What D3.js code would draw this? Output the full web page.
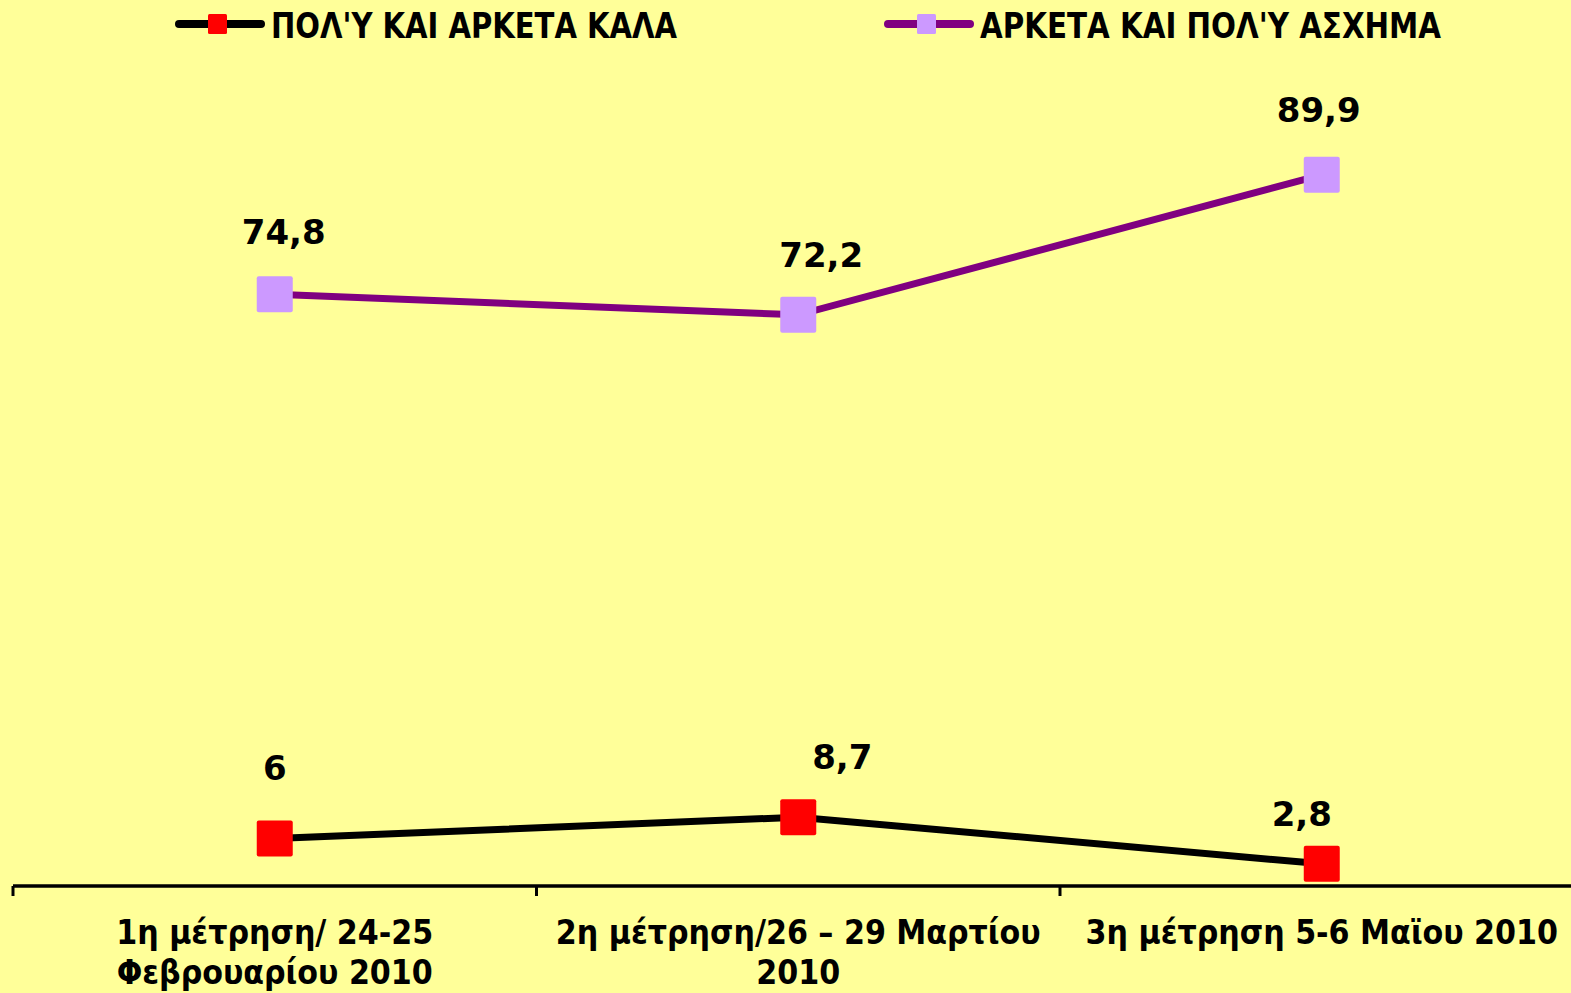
<!DOCTYPE html>
<html>
<head>
<meta charset="utf-8">
<script src="https://cdn.jsdelivr.net/npm/d3@7"></script>
<style>
  body { margin: 0; background: #FFFF99; }
  svg { display: block; }
  text { font-family: "DejaVu Sans", Verdana, sans-serif; font-weight: bold; fill: #000; }
</style>
</head>
<body>
<svg width="1571" height="993"></svg>
<script>
// data
var categories = [
  ["1η μέτρηση/ 24-25", "Φεβρουαρίου 2010"],
  ["2η μέτρηση/26 – 29 Μαρτίου", "2010"],
  ["3η μέτρηση 5-6 Μαϊου 2010"]
];
var seriesNames = ["ΠΟΛ'Υ ΚΑΙ ΑΡΚΕΤΑ ΚΑΛΑ", "ΑΡΚΕΤΑ ΚΑΙ ΠΟΛ'Υ ΑΣΧΗΜΑ"];
var goodValues = [6, 8.7, 2.8];
var badValues = [74.8, 72.2, 89.9];
var yDomain = [0, 112];

// label nudges (dx, dy from marker), excel had them placed by hand
var goodNudge = [[0, -59], [44, -48], [-20, -38]];
var badNudge = [[9, -50], [23, -48], [-3, -53]];

var svg = d3.select("svg"),
    width = +svg.attr("width"),
    height = +svg.attr("height");

svg.append("rect").attr("width", width).attr("height", height).attr("fill", "#FFFF99");

var x = d3.scaleBand()
    .domain(d3.range(categories.length))
    .range([13, 1583.5]);
var y = d3.scaleLinear()
    .domain(yDomain)
    .range([886, 0]);

// x axis
var axis = svg.append("g")
    .attr("transform", "translate(0," + y(0) + ")");
axis.append("line")
    .attr("x1", x.range()[0]).attr("x2", x.range()[1])
    .attr("stroke", "#000").attr("stroke-width", 3.5);
axis.selectAll(".tick")
    .data(d3.range(categories.length + 1))
    .enter().append("line")
    .attr("x1", function(i) { return x.range()[0] + i * x.bandwidth(); })
    .attr("x2", function(i) { return x.range()[0] + i * x.bandwidth(); })
    .attr("y1", 0).attr("y2", 10)
    .attr("stroke", "#000").attr("stroke-width", 3);

axis.selectAll(".lbl")
    .data(categories)
    .enter().append("text")
    .attr("class", "lbl")
    .attr("text-anchor", "middle")
    .attr("transform", function(d, i) { return "translate(" + (x(i) + x.bandwidth() / 2) + ",0)"; })
    .style("font-family", "'DejaVu Sans Condensed', 'DejaVu Sans', sans-serif")
    .style("font-size", "33.5px")
    .selectAll("tspan")
    .data(function(d) { return d; })
    .enter().append("tspan")
    .attr("x", 0)
    .attr("y", function(d, j) { return 58 + j * 40; })
    .text(function(d) { return d; });

function drawSeries(values, lineColor, markerColor, nudge) {
  var line = d3.line()
      .x(function(d, i) { return x(i) + x.bandwidth() / 2; })
      .y(function(d) { return y(d); });
  svg.append("path")
      .datum(values)
      .attr("d", line)
      .attr("fill", "none")
      .attr("stroke", lineColor)
      .attr("stroke-width", 7);
  svg.append("g").selectAll("rect")
      .data(values)
      .enter().append("rect")
      .attr("x", function(d, i) { return x(i) + x.bandwidth() / 2 - 18; })
      .attr("y", function(d) { return y(d) - 18; })
      .attr("width", 36).attr("height", 36)
      .attr("rx", 2)
      .attr("fill", markerColor);
  svg.append("g").selectAll("text")
      .data(values)
      .enter().append("text")
      .attr("text-anchor", "middle")
      .attr("x", function(d, i) { return x(i) + x.bandwidth() / 2 + nudge[i][0]; })
      .attr("y", function(d, i) { return y(d) + nudge[i][1]; })
      .style("font-size", "34px")
      .text(function(d) { return String(d).replace(".", ","); });
}

drawSeries(badValues, "#800080", "#CC99FF", badNudge);
drawSeries(goodValues, "#000000", "#FF0000", goodNudge);

// legend
var legendItems = [
  { name: seriesNames[0], line: "#000000", marker: "#FF0000", x: 175 },
  { name: seriesNames[1], line: "#800080", marker: "#CC99FF", x: 884 }
];
var lg = svg.append("g").selectAll("g")
    .data(legendItems)
    .enter().append("g")
    .attr("transform", function(d) { return "translate(" + d.x + ",24)"; });
lg.append("line")
    .attr("x1", 4).attr("x2", 86)
    .attr("stroke", function(d) { return d.line; })
    .attr("stroke-width", 8)
    .attr("stroke-linecap", "round");
lg.append("rect")
    .attr("x", 33).attr("y", -10)
    .attr("width", 19).attr("height", 20)
    .attr("rx", 1.5)
    .attr("fill", function(d) { return d.marker; });
lg.append("text")
    .attr("x", 96).attr("y", 14)
    .style("font-family", "'DejaVu Sans Condensed', 'DejaVu Sans', sans-serif")
    .style("font-size", "35px")
    .attr("textLength", function(d, i) { return i === 0 ? 406 : 461; })
    .attr("lengthAdjust", "spacingAndGlyphs")
    .text(function(d) { return d.name; });
</script>
</body>
</html>
